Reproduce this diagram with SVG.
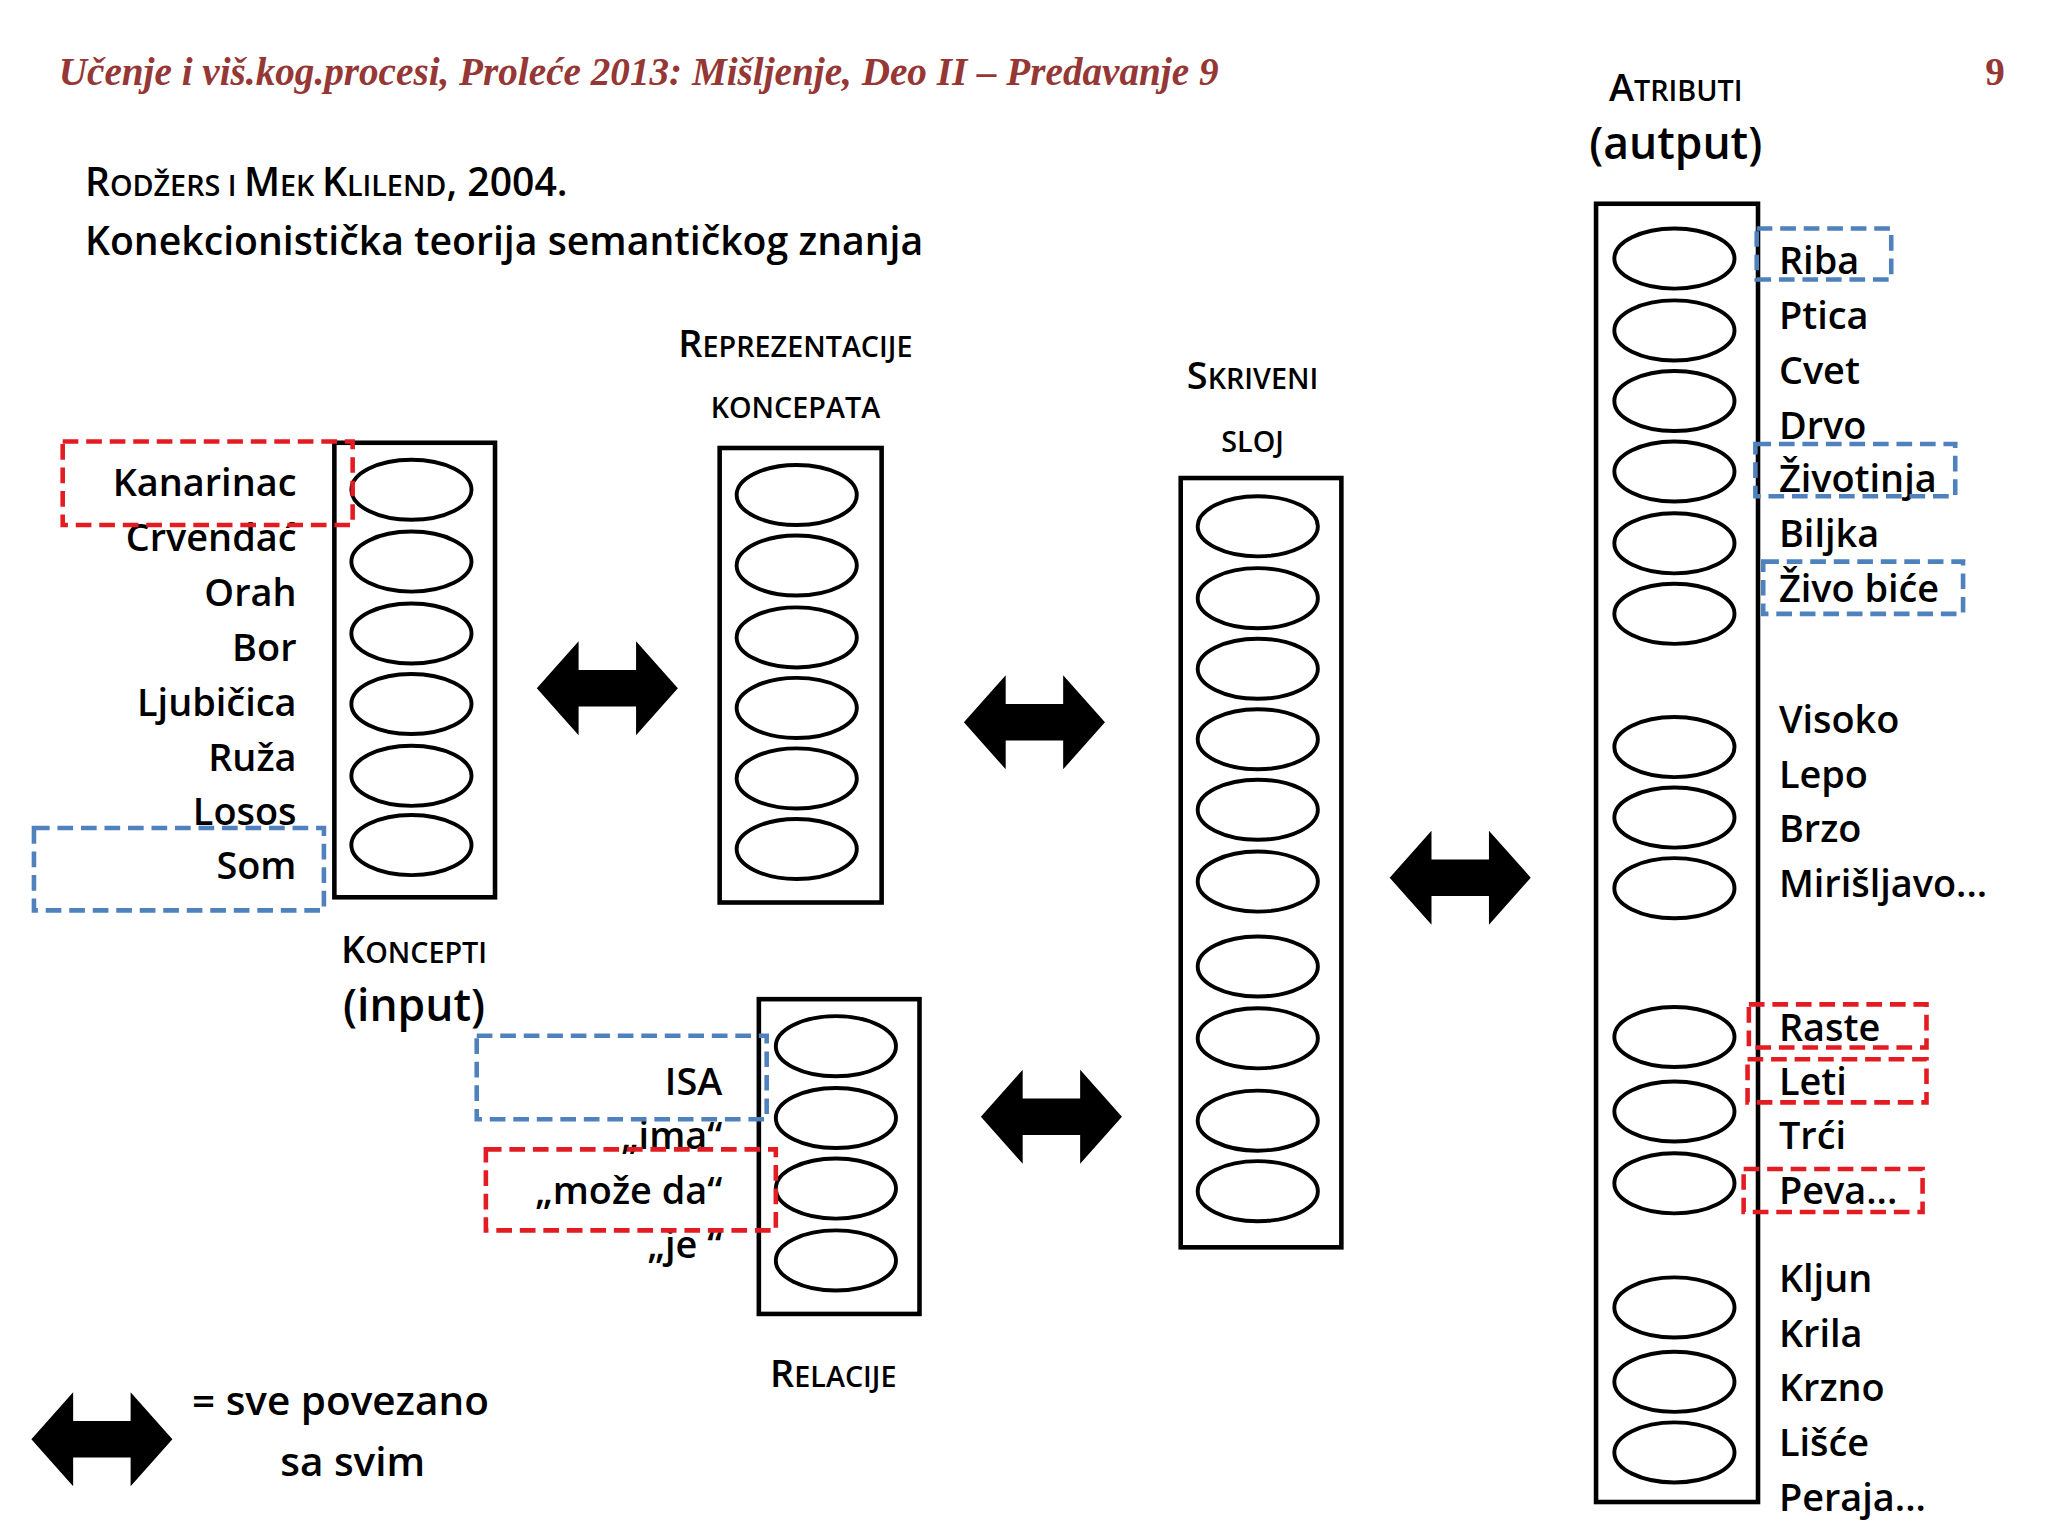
<svg xmlns="http://www.w3.org/2000/svg" xmlns:xlink="http://www.w3.org/1999/xlink" width="2048" height="1536" viewBox="0 0 2048 1536">
<style>
.t{font-family:"Open Sans","Noto Sans",sans-serif;font-weight:600;fill:#000}
.l{font-size:29px}
.r{text-anchor:end}
.m{text-anchor:middle}
.box{fill:none;stroke:#000;stroke-width:3.5}
.e{fill:#fff;stroke:#000;stroke-width:3}
.rd{fill:none;stroke:#e31b23;stroke-width:3.5;stroke-dasharray:12 6}
.bd{fill:none;stroke:#4f81bd;stroke-width:3.5;stroke-dasharray:12 6}
.sc{font-size:22px}
</style>
<defs>
<path id="arr" d="M-54,0 L-22,-36 L-22,-14 L22,-14 L22,-36 L54,0 L22,36 L22,14 L-22,14 L-22,36 Z" fill="#000"/>
<ellipse id="el" rx="46" ry="23" class="e"/>
</defs>
<rect width="2048" height="1536" fill="#fff"/>
<g transform="scale(1.3061)">
<g id="title">
<text x="45" y="65" font-family="Liberation Serif,serif" font-style="italic" font-weight="bold" font-size="30" fill="#953735">Učenje i viš.kog.procesi, Proleće 2013: Mišljenje, Deo II – Predavanje 9</text>
<text x="1520" y="65" font-family="Liberation Serif,serif" font-weight="bold" font-size="30" fill="#953735">9</text>
<text x="65" y="150" class="t" font-size="30">R<tspan class="sc">ODŽERS I </tspan>M<tspan class="sc">EK </tspan>K<tspan class="sc">LILEND</tspan>, 2004.</text>
<text x="65" y="195" class="t" font-size="30">Konekcionistička teorija semantičkog znanja</text>
</g>
<g id="koncepti">
<rect x="256" y="339" width="123" height="348" class="box"/>
<use href="#el" x="315" y="375"/><use href="#el" x="315" y="430"/><use href="#el" x="315" y="485"/><use href="#el" x="315" y="539"/><use href="#el" x="315" y="594"/><use href="#el" x="315" y="647"/>
<g class="t l r">
<text x="227" y="380">Kanarinac</text><text x="227" y="422">Crvendać</text><text x="227" y="464">Orah</text><text x="227" y="506">Bor</text><text x="227" y="548">Ljubičica</text><text x="227" y="590">Ruža</text><text x="227" y="632">Losos</text><text x="227" y="673">Som</text>
</g>
<rect x="48" y="338" width="222" height="64" class="rd"/>
<rect x="26" y="634" width="222" height="63" class="bd"/>
<text x="317" y="737" class="t m" font-size="29">K<tspan class="sc">ONCEPTI</tspan></text>
<text x="317" y="782" class="t m" font-size="34">(input)</text>
</g>
<g id="reprezentacije">
<rect x="551" y="343" width="124" height="348" class="box"/>
<use href="#el" x="610" y="379"/><use href="#el" x="610" y="433"/><use href="#el" x="610" y="488"/><use href="#el" x="610" y="542"/><use href="#el" x="610" y="596"/><use href="#el" x="610" y="650"/>
<text x="609" y="273" class="t m" font-size="29">R<tspan class="sc">EPREZENTACIJE</tspan></text>
<text x="609" y="320" class="t m sc">KONCEPATA</text>
</g>
<g id="skriveni">
<rect x="904" y="366" width="123" height="589" class="box"/>
<use href="#el" x="963" y="403"/><use href="#el" x="963" y="458"/><use href="#el" x="963" y="512"/><use href="#el" x="963" y="566"/><use href="#el" x="963" y="620"/><use href="#el" x="963" y="675"/><use href="#el" x="963" y="740"/><use href="#el" x="963" y="795"/><use href="#el" x="963" y="858"/><use href="#el" x="963" y="912"/>
<text x="959" y="298" class="t m" font-size="29">S<tspan class="sc">KRIVENI</tspan></text>
<text x="959" y="346" class="t m sc">SLOJ</text>
</g>
<g id="relacije">
<rect x="581" y="765" width="123" height="241" class="box"/>
<use href="#el" x="640" y="801"/><use href="#el" x="640" y="856"/><use href="#el" x="640" y="910"/><use href="#el" x="640" y="965"/>
<g class="t l r">
<text x="553" y="838">ISA</text><text x="553" y="880">„ima“</text><text x="553" y="922">„može da“</text><text x="553" y="963">„je “</text>
</g>
<rect x="365" y="793" width="222" height="64" class="bd"/>
<rect x="372" y="880" width="222" height="62" class="rd"/>
<text x="638" y="1062" class="t m" font-size="29">R<tspan class="sc">ELACIJE</tspan></text>
</g>
<g id="atributi">
<rect x="1222" y="156" width="124" height="994" class="box"/>
<use href="#el" x="1282" y="198"/><use href="#el" x="1282" y="253"/><use href="#el" x="1282" y="307"/><use href="#el" x="1282" y="361"/><use href="#el" x="1282" y="416"/><use href="#el" x="1282" y="470"/>
<use href="#el" x="1282" y="572"/><use href="#el" x="1282" y="626"/><use href="#el" x="1282" y="680"/>
<use href="#el" x="1282" y="794"/><use href="#el" x="1282" y="851"/><use href="#el" x="1282" y="906"/>
<use href="#el" x="1282" y="1001"/><use href="#el" x="1282" y="1058"/><use href="#el" x="1282" y="1112"/>
<g class="t l">
<text x="1362" y="210">Riba</text><text x="1362" y="252">Ptica</text><text x="1362" y="294">Cvet</text><text x="1362" y="336">Drvo</text><text x="1362" y="377">Životinja</text><text x="1362" y="419">Biljka</text><text x="1362" y="461">Živo biće</text>
<text x="1362" y="561">Visoko</text><text x="1362" y="603">Lepo</text><text x="1362" y="645">Brzo</text><text x="1362" y="687">Mirišljavo...</text>
<text x="1362" y="797">Raste</text><text x="1362" y="838">Leti</text><text x="1362" y="880">Trći</text><text x="1362" y="922">Peva...</text>
<text x="1362" y="989">Kljun</text><text x="1362" y="1031">Krila</text><text x="1362" y="1073">Krzno</text><text x="1362" y="1115">Lišće</text><text x="1362" y="1157">Peraja...</text>
</g>
<rect x="1345" y="175" width="103" height="39" class="bd"/>
<rect x="1344" y="340" width="153" height="40" class="bd"/>
<rect x="1350" y="430" width="153" height="40" class="bd"/>
<rect x="1339" y="769" width="136" height="33" class="rd"/>
<rect x="1338" y="811" width="137" height="33" class="rd"/>
<rect x="1335" y="895" width="137" height="33" class="rd"/>
<text x="1283" y="77" class="t m" font-size="29">A<tspan class="sc">TRIBUTI</tspan></text>
<text x="1283" y="122" class="t m" font-size="34">(autput)</text>
</g>
<g id="connectors">
<use href="#arr" x="465" y="527"/>
<use href="#arr" x="792" y="553"/>
<use href="#arr" x="1118" y="672"/>
<use href="#arr" x="805" y="855"/>
</g>
<g id="legend">
<use href="#arr" x="78" y="1102"/>
<text x="147" y="1083" class="t" font-size="31">= sve povezano</text>
<text x="270" y="1130" class="t m" font-size="31">sa svim</text>
</g>
</g>
</svg>
